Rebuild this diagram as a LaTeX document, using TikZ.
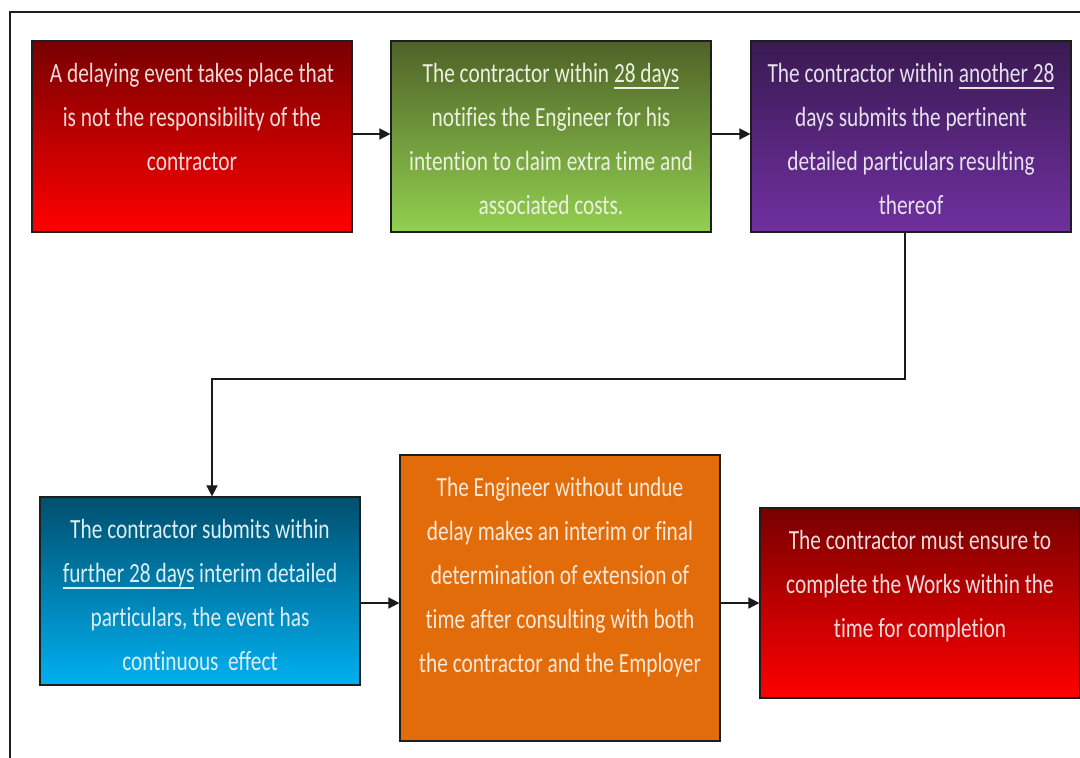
\documentclass[tikz,border=0pt]{standalone}
\usepackage{fontspec}
\setmainfont{Carlito}[FakeStretch=0.77,Ligatures=NoCommon]
\usetikzlibrary{arrows.meta}
\newcommand\undr[1]{\setbox0\hbox{#1}\leavevmode\rlap{\vrule height -4.5pt depth 6pt width \wd0}\box0\relax}
\definecolor{redtop}{HTML}{780000}
\definecolor{redbot}{HTML}{FF0000}
\definecolor{grntop}{HTML}{4F6228}
\definecolor{grnbot}{HTML}{92D050}
\definecolor{purtop}{HTML}{3A1A52}
\definecolor{purbot}{HTML}{7030A0}
\definecolor{blutop}{HTML}{004F6E}
\definecolor{blubot}{HTML}{00B0F0}
\definecolor{orng}{HTML}{E36C0A}
\definecolor{redtxt}{HTML}{F2DCDB}
\definecolor{grntxt}{HTML}{EBF1DE}
\definecolor{purtxt}{HTML}{E5E0EC}
\definecolor{blutxt}{HTML}{DBEEF4}
\definecolor{orntxt}{HTML}{FDE9D9}
\definecolor{edge}{HTML}{1E1E1E}
\definecolor{wire}{HTML}{1A1A1A}
\begin{document}
\begin{tikzpicture}[x=1pt,y=-1pt,
  box/.style={draw=edge, line width=1.2pt, rectangle, inner sep=0pt, minimum width=320pt},
  txt/.style={anchor=north, align=center, inner sep=0pt, font=\fontsize{27.7}{44}\selectfont},
  conn/.style={draw=wire, line width=1.6pt, -{Triangle[length=11pt,width=11pt]}}]
\useasboundingbox (0,0) rectangle (1080,758);
\fill[white] (0,0) rectangle (1080,758);
\draw[edge, line width=1.3pt] (10,758) -- (10,12) -- (1082,12);

\node[box, minimum height=191pt, top color=redtop, bottom color=redbot] (b1) at (192,136.5) {};
\node[box, minimum height=191pt, top color=grntop, bottom color=grnbot] (b2) at (551,136.5) {};
\node[box, minimum height=191pt, top color=purtop, bottom color=purbot] (b3) at (911,136.5) {};
\node[box, minimum height=188pt, top color=blutop, bottom color=blubot] (b4) at (200,591) {};
\node[box, minimum height=286pt, fill=orng] (b5) at (560,598) {};
\node[box, minimum height=190pt, top color=redtop, bottom color=redbot] (b6) at (920,603) {};

\node[txt, text=redtxt] (t1) at ([yshift=-20pt]b1.north) {\rule{0pt}{22pt}A delaying event takes place that\\is not the responsibility of the\\contractor};
\node[txt, text=grntxt] (t2) at ([yshift=-20pt]b2.north) {\rule{0pt}{22pt}The contractor within \undr{28 days}\\notifies the Engineer for his\\intention to claim extra time and\\associated costs.};
\node[txt, text=purtxt] (t3) at ([yshift=-20pt]b3.north) {\rule{0pt}{22pt}The contractor within \undr{another 28}\\days submits the pertinent\\detailed particulars resulting\\thereof};
\node[txt, text=blutxt] (t4) at ([yshift=-20pt]b4.north) {\rule{0pt}{22pt}The contractor submits within\\\undr{further 28 days} interim detailed\\particulars, the event has\\continuous\ \ effect};
\node[txt, text=orntxt] (t5) at ([yshift=-20pt]b5.north) {\rule{0pt}{22pt}The Engineer without undue\\delay makes an interim or final\\determination of extension of\\time after consulting with both\\the contractor and the Employer};
\node[txt, text=redtxt] (t6) at ([yshift=-20pt]b6.north) {\rule{0pt}{22pt}The contractor must ensure to\\complete the Works within the\\time for completion};

\coordinate (turn) at (0,379);
\draw[conn] ([yshift=2.5pt]b1.east) -- ([yshift=2.5pt]b1.east -| b2.west);
\draw[conn] ([yshift=2.5pt]b2.east) -- ([yshift=2.5pt]b2.east -| b3.west);
\draw[conn] ([xshift=-6pt]b3.south) -- ([xshift=-6pt]b3.south |- turn) -| ([xshift=12pt]b4.north);
\draw[conn] ([yshift=-12pt]b4.east) -- ([yshift=-12pt]b4.east -| b5.west);
\draw[conn] (b6.west -| b5.east) -- (b6.west);
\end{tikzpicture}
\end{document}
